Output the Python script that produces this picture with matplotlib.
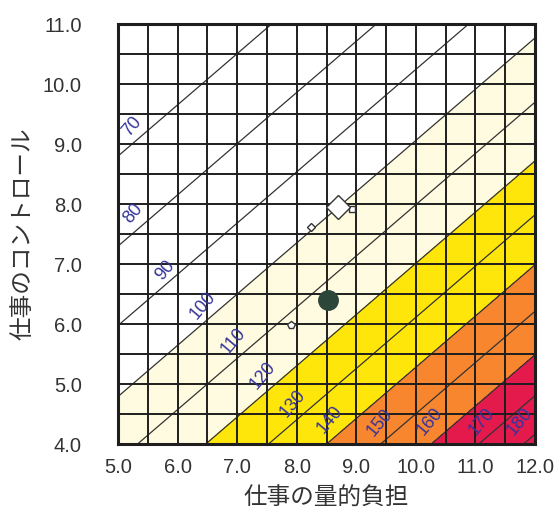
import numpy as np
import matplotlib
matplotlib.use("Agg")
import matplotlib.pyplot as plt

plt.rcParams['font.family'] = ['Liberation Sans', 'Noto Sans CJK JP', 'DejaVu Sans']

# risk model: R = 100 * exp(A*(demand - D0) - B*(control - C0))
A_DEMAND = 0.076
B_CONTROL = 0.089
D0 = 8.7
C0 = 7.95

line_levels = [70, 80, 90, 100, 110, 120, 130, 140, 150, 160, 170, 180]
fill_levels = [0, 100, 120, 140, 160, 1000]
fill_colors = ["#ffffff", "#fffbe0", "#ffe60a", "#f7862f", "#e41a4c"]

# where each contour label sits (demand, control)
label_x = [5.23, 5.25, 5.79, 6.43, 6.93, 7.43, 7.94, 8.56, 9.40, 10.24, 11.10, 11.75]
label_y = [9.30, 7.85, 6.90, 6.30, 5.72, 5.14, 4.68, 4.40, 4.35, 4.37, 4.37, 4.37]

# group points
avg_point = (8.70, 7.95)
square_point = (8.93, 7.92)
small_diamond_point = (8.24, 7.62)
pentagon_point = (7.90, 5.98)
group_point = (8.53, 6.40)

xticks = [5.0, 6.0, 7.0, 8.0, 9.0, 10.0, 11.0, 12.0]
yticks = [4.0, 5.0, 6.0, 7.0, 8.0, 9.0, 10.0, 11.0]

d = np.linspace(5, 12, 400)
c = np.linspace(4, 11, 400)
D, C = np.meshgrid(d, c)
R = 100 * np.exp(A_DEMAND * (D - D0) - B_CONTROL * (C - C0))

fig = plt.figure(figsize=(5.55, 5.22), dpi=100)
ax = fig.add_axes([0.2126, 0.1494, 0.7514, 0.8046])

ax.contourf(D, C, R, levels=fill_levels, colors=fill_colors)
ax.contour(D, C, R, levels=line_levels, colors="#333333", linewidths=0.9)

# half-unit grid
for v in np.arange(5.5, 12.0, 0.5):
    ax.axvline(v, color="#1e1e1e", lw=1.4, zorder=2)
for v in np.arange(4.5, 11.0, 0.5):
    ax.axhline(v, color="#1e1e1e", lw=1.4, zorder=2)

for lv, x, y in zip(line_levels, label_x, label_y):
    ax.text(x, y, str(lv), color="#34349a", fontsize=13, rotation=50,
            ha="center", va="center", zorder=3)

ax.plot(*square_point, marker="s", ms=5, mfc="white", mec="#333333", mew=1, zorder=4)
ax.plot(*avg_point, marker="D", ms=12, mfc="white", mec="#333333", mew=1, zorder=5)
ax.plot(*small_diamond_point, marker="D", ms=4.5, mfc="white", mec="#333333", mew=1, zorder=4)
ax.plot(*pentagon_point, marker="p", ms=5.5, mfc="white", mec="#333333", mew=1, zorder=4)
ax.plot(*group_point, marker="o", ms=14, mfc="#2d463a", mec="#2d463a", zorder=5)

ax.set_xlim(5, 12)
ax.set_ylim(4, 11)
ax.set_xticks(xticks)
ax.set_yticks(yticks)
ax.set_xticklabels([f"{v:.1f}" for v in xticks], fontsize=14.5, color="#333333")
ax.set_yticklabels([f"{v:.1f}" for v in yticks], fontsize=14.5, color="#333333")
ax.tick_params(length=0, pad=10)
ax.tick_params(axis="y", pad=26)
for s in ax.spines.values():
    s.set_linewidth(2.2)
    s.set_color("#1e1e1e")
    s.set_zorder(6)

ax.set_xlabel("仕事の量的負担", fontsize=17, labelpad=8, color="#333333")
ax.set_ylabel("仕事のコントロール", fontsize=17, labelpad=6, color="#333333")

fig.savefig("out.png", dpi=100)
